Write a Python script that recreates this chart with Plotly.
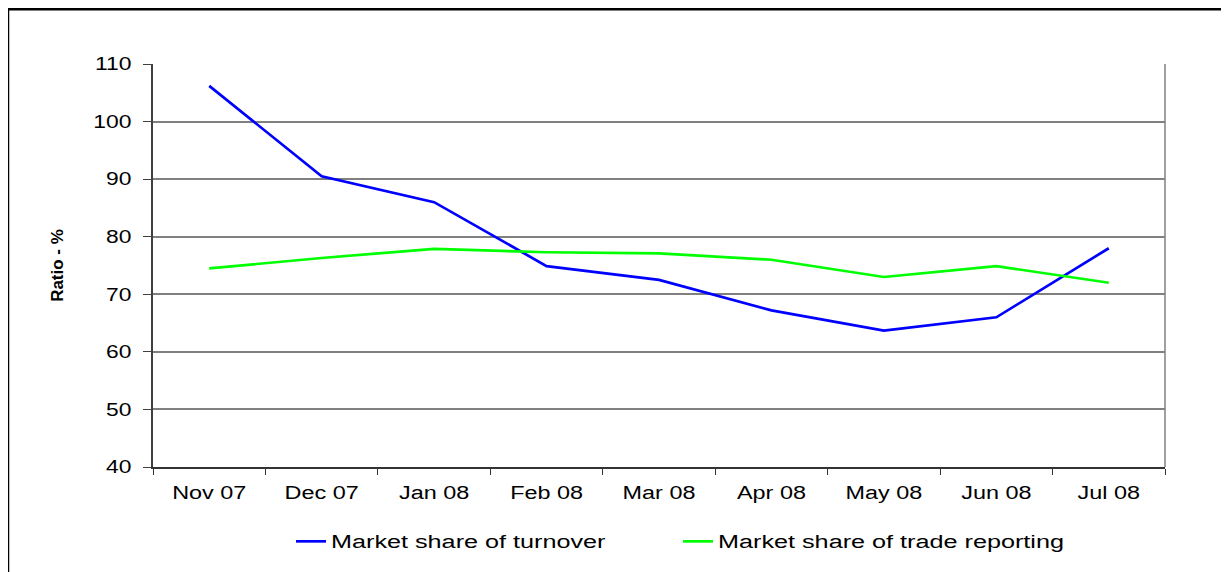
import plotly.graph_objects as go

months = ["Nov 07", "Dec 07", "Jan 08", "Feb 08", "Mar 08", "Apr 08", "May 08", "Jun 08", "Jul 08"]
turnover = [106.2, 90.5, 86.0, 74.9, 72.5, 67.2, 63.7, 66.0, 78.0]
trade_reporting = [74.5, 76.3, 77.9, 77.3, 77.1, 76.0, 73.0, 74.9, 72.0]
y_ticks = [40, 50, 60, 70, 80, 90, 100, 110]
dark_grid_values = [70, 80]   # these two gridlines are drawn black in the original

# page body has an 8px margin, so work in page coords and offset by 8
OFF = 8
W, H = 1229 - OFF, 572 - OFF
L, R, T, B = 153 - OFF, 1229 - 1165, 64 - OFF, 572 - 469
pw, ph = W - L - R, H - T - B

def px_x(x):
    return (x - OFF - L) / pw

def px_y(y):
    return (T + ph - (y - OFF)) / ph

font = "Liberation Sans, Arial, sans-serif"
FS = 18

fig = go.Figure()
fig.add_trace(go.Scatter(x=months, y=turnover, mode="lines", name="Market share of turnover",
                         line=dict(color="#0000FF", width=2.7)))
fig.add_trace(go.Scatter(x=months, y=trade_reporting, mode="lines", name="Market share of trade reporting",
                         line=dict(color="#00FF00", width=2.7)))

shapes = [
    # right border of plot area
    dict(type="line", xref="paper", yref="paper", x0=1, x1=1, y0=0, y1=1,
         line=dict(color="#808080", width=1.5)),
    # outer chart frame (left and top edges visible)
    dict(type="rect", xref="paper", yref="paper",
         x0=px_x(8), x1=px_x(1229 + 20),
         y0=px_y(572 + 20), y1=px_y(9),
         line=dict(color="black", width=2.5), fillcolor="rgba(0,0,0,0)", layer="above"),
]
for v in dark_grid_values:
    shapes.append(dict(type="line", xref="paper", yref="y", x0=0, x1=1, y0=v, y1=v,
                       line=dict(color="black", width=1.2), layer="below"))

fig.update_layout(
    width=W, height=H,
    margin=dict(l=L, r=R, t=T, b=B, pad=0),
    paper_bgcolor="white", plot_bgcolor="white",
    font=dict(family=font, size=FS, color="black"),
    showlegend=True,
    legend=dict(orientation="h", yanchor="middle", y=px_y(544), x=px_x(291), xanchor="left",
                font=dict(size=FS), bgcolor="rgba(0,0,0,0)", borderwidth=0,
                entrywidth=342, entrywidthmode="pixels", traceorder="normal"),
    xaxis=dict(type="category", tickson="boundaries", ticks="outside", ticklen=6, tickwidth=1,
               tickcolor="#333333", showline=True, linecolor="#333333", linewidth=1.5,
               showgrid=False, mirror=False, range=[-0.5, 8.5], ticklabelstandoff=9,
               tickfont=dict(size=FS)),
    yaxis=dict(range=[40, 110], tickvals=y_ticks, ticks="outside", ticklen=8, tickwidth=1,
               tickcolor="#404040", showline=True, linecolor="#404040", linewidth=2,
               showgrid=True, gridcolor="#808080", gridwidth=1.5, zeroline=False,
               tickfont=dict(size=FS), ticklabelstandoff=8,
               title=dict(text="<b>Ratio - %</b>", font=dict(size=17), standoff=33)),
    shapes=shapes,
)

# the original's labels are rendered horizontally stretched
post = """
function stretchText(){
  var gd = document.getElementById('{plot_id}');
  if (!gd) return;
  function apply(sel, k){
    gd.querySelectorAll(sel).forEach(function(t){
      if (t.getAttribute('data-stretched')) return;
      var w = t.getComputedTextLength();
      if (!w) return;
      t.setAttribute('textLength', (w * k).toFixed(1));
      t.setAttribute('lengthAdjust', 'spacingAndGlyphs');
      t.setAttribute('data-stretched', '1');
    });
  }
  apply('.xtick text', 1.3);
  apply('.ytick text', 1.27);
  apply('text.legendtext', 1.4);
  gd.querySelectorAll('.infolayer [clip-path]').forEach(function(el){
    el.removeAttribute('clip-path');
  });
}
stretchText();
setTimeout(stretchText, 200);
"""

fig.write_html("out.html", post_script=post)
